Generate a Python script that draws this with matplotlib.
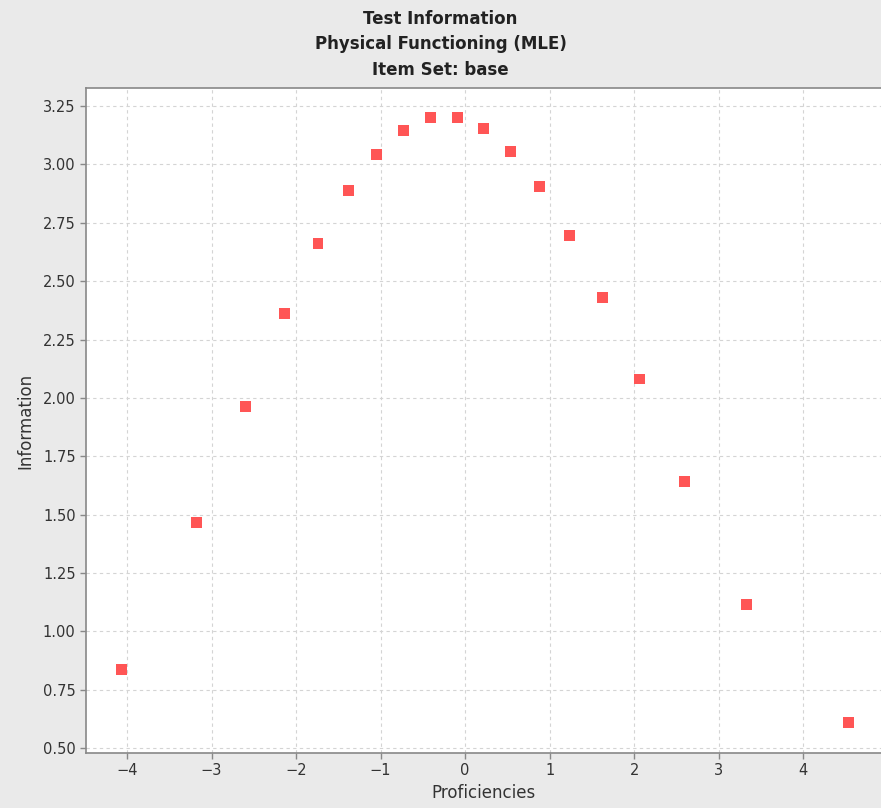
import numpy as np
import matplotlib.pyplot as plt

prof = [-4.07, -3.18, -2.60, -2.14, -1.74, -1.38, -1.05, -0.73, -0.41, -0.09,
        0.22, 0.54, 0.88, 1.23, 1.62, 2.06, 2.60, 3.33, 4.53]
info = [0.838, 1.468, 1.965, 2.363, 2.663, 2.890, 3.044, 3.147, 3.199, 3.199,
        3.152, 3.057, 2.907, 2.697, 2.432, 2.081, 1.644, 1.117, 0.611]

xticks = [-4, -3, -2, -1, 0, 1, 2, 3, 4]
yticks = [0.5, 0.75, 1.0, 1.25, 1.5, 1.75, 2.0, 2.25, 2.5, 2.75, 3.0, 3.25]

bg = '#eaeaea'
fig = plt.figure(figsize=(8.81, 8.08), dpi=100, facecolor=bg)
ax = fig.add_axes([0.0976, 0.068, 0.9024, 0.823])
ax.set_facecolor('white')

ax.scatter(prof, info, marker='s', s=62, color='#ff5555', edgecolors='none', zorder=3)

ax.set_xlim(-4.485, 4.92)
ax.set_ylim(0.479, 3.327)
ax.set_xticks(xticks)
ax.set_yticks(yticks)
ax.set_xticklabels([str(t).replace('-', '\u2212') for t in xticks])
ax.set_yticklabels(['%.2f' % t for t in yticks])
ax.grid(True, color='#d4d4d4', linestyle=(0, (3, 3)), linewidth=0.8)
ax.set_axisbelow(True)

for s in ['left', 'bottom', 'top']:
    ax.spines[s].set_color('#888888')
    ax.spines[s].set_linewidth(1.2)
ax.spines['right'].set_visible(False)
ax.tick_params(colors='#888888', labelcolor='#333333', labelsize=10.5, length=4, width=1)

ax.set_xlabel('Proficiencies', fontsize=12, color='#333333', labelpad=4)
ax.set_ylabel('Information', fontsize=12, color='#333333', labelpad=6)

fig.text(0.5, 0.988, 'Test Information\nPhysical Functioning (MLE)\nItem Set: base',
         ha='center', va='top', fontsize=12, fontweight='bold', color='#222222',
         linespacing=1.55)

fig.savefig('out.png', dpi=100, facecolor=bg)
